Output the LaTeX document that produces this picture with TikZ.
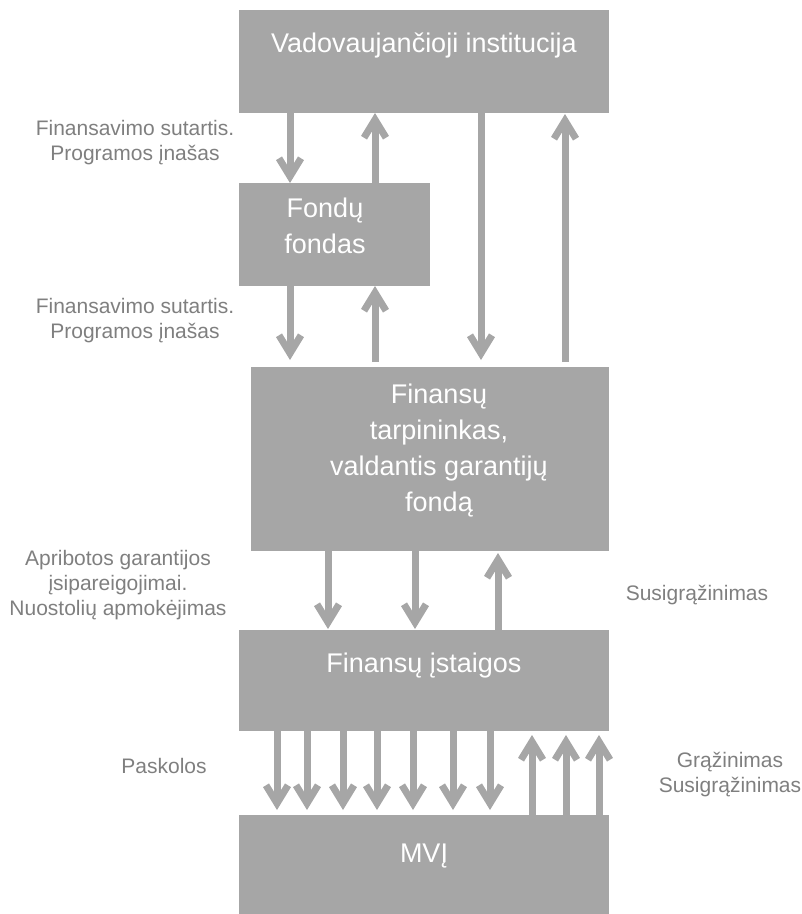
\documentclass[tikz,border=0pt]{standalone}
\usepackage{fontspec}
\setmainfont{Liberation Sans}
\usepackage{tikz}
\usetikzlibrary{arrows.meta, calc}
\definecolor{boxgray}{HTML}{A6A6A6}
\definecolor{labelgray}{HTML}{7F7F7F}

\begin{document}
\begin{tikzpicture}[x=1pt, y=-1pt,
  blk/.style={fill=boxgray, draw=none, inner sep=0pt, outer sep=0pt},
  boxtxt/.style={text=white, inner sep=0pt, align=center, font=\fontsize{27}{36}\selectfont},
  lbl/.style={text=labelgray, inner sep=0pt, align=center, font=\fontsize{21}{25}\selectfont},
  flow/.style={draw=boxgray, line width=7pt, -{Straight Barb[length=18pt, width=22pt]}}]
\useasboundingbox (0,0) rectangle (802,914);
% blocks
\node[blk, minimum width=370, minimum height=103] (vadov) at (424,61.5) {};
\node[blk, minimum width=191, minimum height=103] (fondai) at (334.5,234.5) {};
\node[blk, minimum width=358, minimum height=184] (tarpin) at (430,459) {};
\node[blk, minimum width=370, minimum height=101] (istaigos) at (424,680.5) {};
\node[blk, minimum width=370, minimum height=99] (mvi) at (424,864.5) {};
% block texts
\node[boxtxt, anchor=base] (vadovtxt) at (424,52) {Vadovaujančioji institucija};
\node[boxtxt, anchor=north] (fondaitxt) at (325,198) {Fondų\\fondas};
\node[boxtxt, anchor=north] (tarpintxt) at (439,384) {Finansų\\tarpininkas,\\valdantis garantijų\\fondą};
\node[boxtxt, anchor=base] (istaigostxt) at (424,672) {Finansų įstaigos};
\node[boxtxt, anchor=base] (mvitxt) at (424,862) {MVĮ};
% labels
\node[lbl, anchor=north] (sut1) at (135,120) {Finansavimo sutartis.\\Programos įnašas};
\node[lbl, anchor=north] (sut2) at (135,298) {Finansavimo sutartis.\\Programos įnašas};
\node[lbl, anchor=north] (garant) at (118,550) {Apribotos garantijos\\įsipareigojimai.\\Nuostolių apmokėjimas};
\node[lbl, anchor=base] (susigr) at (697,600) {Susigrąžinimas};
\node[lbl, anchor=base] (paskolos) at (164,773) {Paskolos};
\node[lbl, anchor=north] (grazin) at (730,752) {Grąžinimas\\Susigrąžinimas};
% columns
\coordinate (c1) at (290,0);
\coordinate (c2) at (375,0);
\coordinate (c3) at (481,0);
\coordinate (c4) at (565,0);
\coordinate (m1) at (328,0);
\coordinate (m2) at (415,0);
\coordinate (m3) at (498,0);
% flows
\draw[flow] (vadov.south -| c1) -- (fondai.north -| c1);
\draw[flow] (fondai.north -| c2) -- (vadov.south -| c2);
\draw[flow, shorten >=7pt] (vadov.south -| c3) -- (tarpin.north -| c3);
\draw[flow, shorten <=5pt, shorten >=1pt] (tarpin.north -| c4) -- (vadov.south -| c4);
\draw[flow, shorten >=7pt] (fondai.south -| c1) -- (tarpin.north -| c1);
\draw[flow, shorten <=5pt] (tarpin.north -| c2) -- (fondai.south -| c2);
\draw[flow, shorten >=1pt] (tarpin.south -| m1) -- (istaigos.north -| m1);
\draw[flow, shorten >=1pt] (tarpin.south -| m2) -- (istaigos.north -| m2);
\draw[flow, shorten >=2pt] (istaigos.north -| m3) -- (tarpin.south -| m3);
\foreach \x in {277,307,343,377,413,453,490} {
  \coordinate (col) at (\x,0);
  \draw[flow, shorten >=5pt] (istaigos.south -| col) -- (mvi.north -| col);
}
\foreach \x in {532,566,599} {
  \coordinate (col) at (\x,0);
  \draw[flow, shorten >=4pt] (mvi.north -| col) -- (istaigos.south -| col);
}
\end{tikzpicture}
\end{document}
